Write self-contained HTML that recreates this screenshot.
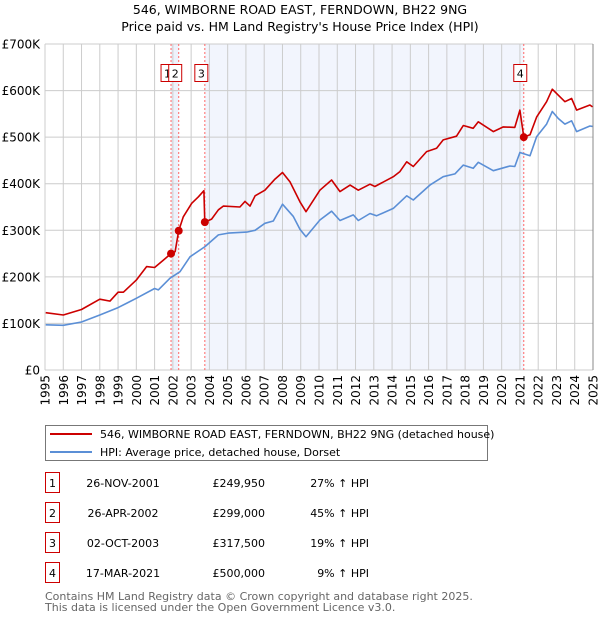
<!DOCTYPE html>
<html><head><meta charset="utf-8"><style>
body{margin:0;background:#fff;font-family:"Liberation Sans","DejaVu Sans",sans-serif;}
svg{display:block}
</style></head><body>
<svg id="chart" width="600" height="620" viewBox="0 0 600 620" font-family="'DejaVu Sans','Liberation Sans',sans-serif">
<text x="300" y="14" text-anchor="middle" font-size="12.5" fill="#000">546, WIMBORNE ROAD EAST, FERNDOWN, BH22 9NG</text>
<text x="300" y="31" text-anchor="middle" font-size="12.5" fill="#000">Price paid vs. HM Land Registry's House Price Index (HPI)</text>
<g id="plot"></g>
<g>
<rect x="45.5" y="425.5" width="442" height="35" fill="#fff" stroke="#777"/>
<line x1="50" y1="434" x2="92" y2="434" stroke="#cc0000" stroke-width="2"/>
<text x="100" y="438" font-size="11">546, WIMBORNE ROAD EAST, FERNDOWN, BH22 9NG (detached house)</text>
<line x1="50" y1="452" x2="92" y2="452" stroke="#5b8fd6" stroke-width="2"/>
<text x="100" y="456" font-size="11">HPI: Average price, detached house, Dorset</text>
</g>
<g id="table" font-size="11"></g>
<text x="45" y="600" font-size="11" fill="#666">Contains HM Land Registry data © Crown copyright and database right 2025.</text>
<text x="45" y="611" font-size="11" fill="#666">This data is licensed under the Open Government Licence v3.0.</text>
</svg>
<script>
const hpiYears=[1995.04,1996.0,1997.0,1998.0,1999.0,2000.0,2001.0,2001.2,2001.84,2002.39,2002.94,2003.76,2004.49,2005.04,2006.04,2006.5,2007.04,2007.5,2008.0,2008.59,2008.96,2009.29,2010.05,2010.69,2011.15,2011.88,2012.15,2012.79,2013.15,2014.07,2014.8,2015.16,2016.07,2016.8,2017.44,2017.9,2018.44,2018.72,2019.54,2020.45,2020.72,2021.0,2021.55,2021.91,2022.46,2022.77,2023.1,2023.46,2023.83,2024.1,2024.83,2024.97];
const hpiValues=[97,96,103,118,134,154,175,172,197,211,243,265,290,294,296,300,315,320,356,330,302,286,322,341,321,333,321,336,331,347,374,365,397,415,421,440,433,446,428,438,437,467,460,501,528,555,540,528,535,512,524,523];
const propYears=[1995.04,1996,1997,1998,1998.56,1999,1999.29,2000,2000.56,2001,2001.48,2001.9,2002.12,2002.32,2002.57,2003.03,2003.4,2003.7,2003.75,2004.12,2004.49,2004.76,2005.67,2005.95,2006.22,2006.5,2007.04,2007.59,2008.0,2008.41,2008.96,2009.29,2010.05,2010.69,2011.15,2011.7,2012.15,2012.79,2013.06,2014.07,2014.43,2014.8,2015.16,2015.89,2016.44,2016.8,2017.53,2017.9,2018.44,2018.72,2019.54,2020.09,2020.72,2021.0,2021.21,2021.55,2021.91,2022.46,2022.77,2023.1,2023.46,2023.83,2024.1,2024.83,2024.97];
const propValues=[123,118,130,152,148,167,167,193,222,220,236,249.95,254,299,329,358,372,385,317.5,324,344,352,350,362,352,374,386,410,424,404,361,340,386,408,383,397,386,399,394,415,426,447,437,469,476,494,502,525,519,533,512,522,521,558,500,505,543,576,603,590,576,583,558,569,565];
const saleLabels=["1","2","3","4"];
const saleYears=[2001.9,2002.32,2003.75,2021.21];
const saleValues=[249.95,299,317.5,500];
const saleDates=["26-NOV-2001","26-APR-2002","02-OCT-2003","17-MAR-2021"];
const salePrices=["£249,950","£299,000","£317,500","£500,000"];
const saleHpi=["27% ↑ HPI","45% ↑ HPI","19% ↑ HPI","9% ↑ HPI"];
const yTicks=[0,100,200,300,400,500,600,700];
const yTickLabels=["£0","£100K","£200K","£300K","£400K","£500K","£600K","£700K"];
const xTicks=[1995,1996,1997,1998,1999,2000,2001,2002,2003,2004,2005,2006,2007,2008,2009,2010,2011,2012,2013,2014,2015,2016,2017,2018,2019,2020,2021,2022,2023,2024,2025];

const L=45,R=593,T=44,B=370,Y0=1995,Y1=2025,VMAX=700;
const xs=y=>L+(y-Y0)/(Y1-Y0)*(R-L);
const ys=v=>B-v/VMAX*(B-T);
const NS="http://www.w3.org/2000/svg";
const plot=document.getElementById('plot');
function mk(tag,attrs,parent){const e=document.createElementNS(NS,tag);for(const k in attrs)e.setAttribute(k,attrs[k]);(parent||plot).appendChild(e);return e;}

const bg=mk('rect',{x:L,y:T,width:R-L,height:B-T,fill:'#fff'});


const sh1=mk('rect',{x:xs(saleYears[0]),y:T,width:xs(saleYears[1])-xs(saleYears[0]),height:B-T,fill:'#eef2fb'});


const sh2=mk('rect',{x:xs(saleYears[2]),y:T,width:xs(saleYears[3])-xs(saleYears[2]),height:B-T,fill:'#f2f5fd'});



xTicks.forEach(t=>{
  const l=mk('line',{x1:xs(t),x2:xs(t),y1:T,y2:B,stroke:'#cccccc','stroke-width':1});
  
  
  const tx=mk('text',{x:0,y:0,transform:`translate(${xs(t)+4.5},375) rotate(-90)`,'text-anchor':'end','font-size':12,fill:'#000'});
  tx.textContent=t;
  
  
});
yTicks.forEach((t,i)=>{
  const l=mk('line',{x1:L,x2:R,y1:ys(t),y2:ys(t),stroke:'#cccccc','stroke-width':1});
  
  
  const tx=mk('text',{x:40,y:ys(t)+4.5,'text-anchor':'end','font-size':12,fill:'#000'});
  tx.textContent=yTickLabels[i];
  
  
});
const rb=mk('line',{x1:R,x2:R,y1:T,y2:B,stroke:'#888','stroke-width':1});



saleYears.forEach((y,i)=>{
  const l=mk('line',{x1:xs(y),x2:xs(y),y1:T,y2:B,stroke:'#ff6666','stroke-width':1,'stroke-dasharray':'2,2'});
  
  
});

const pts=(xa,va)=>xa.map((x,i)=>xs(x).toFixed(1)+','+ys(va[i]).toFixed(1)).join(' ');
const hl=mk('polyline',{points:pts(hpiYears,hpiValues),fill:'none',stroke:'#5b8fd6','stroke-width':1.6,'stroke-linejoin':'round'});


const pl=mk('polyline',{points:pts(propYears,propValues),fill:'none',stroke:'#cc0000','stroke-width':1.6,'stroke-linejoin':'round'});



saleYears.forEach((y,i)=>{
  const c=mk('circle',{cx:xs(y),cy:ys(saleValues[i]),r:4,fill:'#cc0000'});
  
  
  const g=mk('g',{});
  
  
  mk('rect',{x:xs(y)-10,y:64.5,width:13,height:17,fill:'#fff',stroke:'#cc0000'},g);
  const t=mk('text',{x:xs(y)-3.5,y:77.5,'text-anchor':'middle','font-size':11,fill:'#000'},g);
  t.textContent=saleLabels[i];
});

const tb=document.getElementById('table');
const rowY=[483,513,543,573];
saleLabels.forEach((s,i)=>{
  const g=mk('g',{},tb);
  
  
  const y=rowY[i];
  mk('rect',{x:45.5,y:y-10.5,width:14,height:20,fill:'#fff',stroke:'#cc0000'},g);
  const n=mk('text',{x:52.5,y:y+4,'text-anchor':'middle'},g);n.textContent=s;
  const d=mk('text',{x:123,y:y+4,'text-anchor':'middle'},g);d.textContent=saleDates[i];
  const p=mk('text',{x:265,y:y+4,'text-anchor':'end'},g);p.textContent=salePrices[i];
  const h=mk('text',{x:369,y:y+4,'text-anchor':'end'},g);h.textContent=saleHpi[i];
});
</script>
</body></html>
